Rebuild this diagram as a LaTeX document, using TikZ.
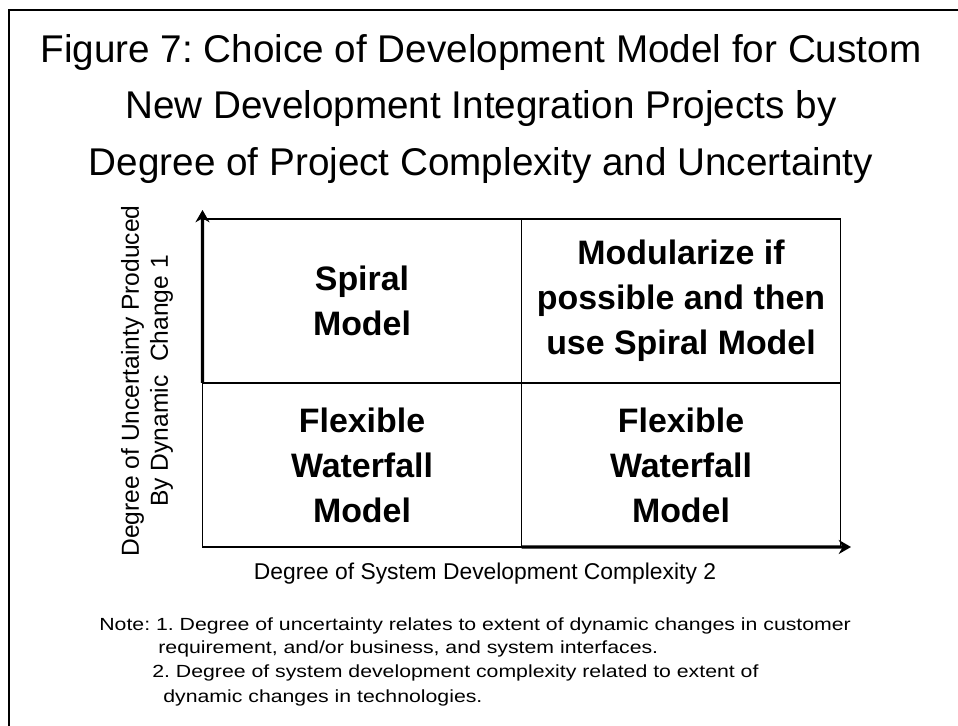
\documentclass[tikz,border=0pt]{standalone}
\usepackage{fontspec}
\setmainfont{Liberation Sans}
\newfontfamily\notefont[FakeStretch=1.21]{Liberation Sans}
\usepackage{tikz}
\usetikzlibrary{arrows.meta, positioning}
\frenchspacing
\tikzstyle{cell} = [rectangle, draw, line width=0.8pt, outer sep=0pt, inner sep=0pt,
    minimum width=6.38cm, minimum height=3.28cm, align=center,
    font=\fontsize{19.3}{25.6}\selectfont\bfseries]
\tikzstyle{axis} = [draw, line width=1.8pt, -{Stealth[length=7pt, width=8pt]}]
\tikzstyle{axislabel} = [font=\fontsize{13}{16.5}\selectfont, align=center, inner sep=0pt]
\tikzstyle{note} = [anchor=base west, inner sep=0pt, font=\notefont\fontsize{10}{12}\selectfont]

\begin{document}
\begin{tikzpicture}[x=0.02cm, y=-0.02cm]
    \useasboundingbox (0,0) rectangle (958,726);
    \clip (0,0) rectangle (958,726);
    % Frame
    \draw[line width=1pt] (9,10) rectangle (980,750);
    % Title
    \node[align=center, inner sep=0pt, font=\fontsize{22}{32}\selectfont] (title) at (481,109)
        {Figure 7: Choice of Development Model for Custom\\
         New Development Integration Projects by\\
         Degree of Project Complexity and Uncertainty};
    % Nodes
    \node [cell] (spiral) at (362,301) {Spiral\\Model};
    \node [cell] (modular) at (681,301) {Modularize if\\possible and then\\use Spiral Model};
    \node [cell] (flexleft) at (362,465) {Flexible\\Waterfall\\Model};
    \node [cell] (flexright) at (681,465) {Flexible\\Waterfall\\Model};
    \coordinate (ytip) at (202.5,210);
    \coordinate (xtip) at (851,547);
    % Edges
    \path[axis] (spiral.south west) -- (ytip);
    \path[axis] (flexright.south west) -- (xtip);
    % Axis labels
    \node [axislabel] (xlabel) at (485,574) {Degree of System Development Complexity 2};
    \node [axislabel, rotate=90, font=\fontsize{14}{16.5}\selectfont] (ylabel) at (147,381)
        {Degree of Uncertainty Produced\\By Dynamic \ Change 1};
    % Notes
    \node [note] (note1) at (99,630) {Note: 1. Degree of uncertainty relates to extent of dynamic changes in customer};
    \node [note] (note2) at (158,653) {requirement, and/or business, and system interfaces.};
    \node [note] (note3) at (152,678) {2. Degree of system development complexity related to extent of};
    \node [note] (note4) at (163,703) {dynamic changes in technologies.};
\end{tikzpicture}
\end{document}
